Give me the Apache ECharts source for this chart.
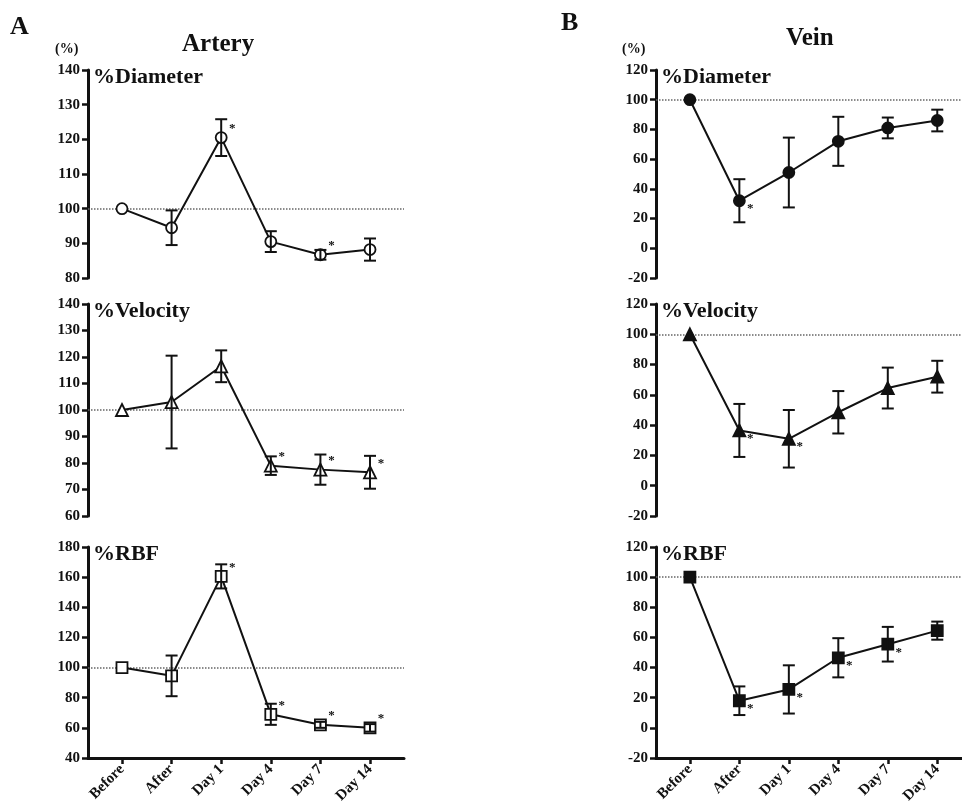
<!DOCTYPE html>
<html>
<head>
<meta charset="utf-8">
<script src="https://cdn.jsdelivr.net/npm/echarts@6/dist/echarts.min.js"></script>
<style>
  html, body { margin: 0; padding: 0; background: #fff; }
  #main { width: 962px; height: 812px; }
</style>
</head>
<body>
<div id="main"></div>
<script>
const categories = ["Before", "After", "Day 1", "Day 4", "Day 7", "Day 14"];

// A: Artery
const arteryDiameter = [100, 94.5, 120.5, 90.5, 86.7, 88.2];
const arteryDiameterErr = [0, 5, 5.3, 3, 1.4, 3.2];
const arteryDiameterStars = [2, 4];

const arteryVelocity = [100, 103, 116.5, 79, 77.5, 76.5];
const arteryVelocityErr = [0, 17.5, 6, 3.5, 5.7, 6.2];
const arteryVelocityStars = [3, 4, 5];

const arteryRBF = [100, 94.5, 160.5, 69, 62, 60];
const arteryRBFErr = [0, 13.5, 8, 7, 2, 2.5];
const arteryRBFStars = [2, 3, 4, 5];

// B: Vein
const veinDiameter = [100, 32, 51, 72, 81, 86];
const veinDiameterErr = [0, 14.5, 23.5, 16.5, 7, 7.3];
const veinDiameterStars = [1];

const veinVelocity = [100, 36.5, 31, 48.5, 64.5, 72];
const veinVelocityErr = [0, 17.5, 19, 14, 13.5, 10.5];
const veinVelocityStars = [1, 2];

const veinRBF = [100, 18, 25.5, 46.5, 55.5, 64.5];
const veinRBFErr = [0, 9.5, 16, 13, 11.5, 6];
const veinRBFStars = [1, 2, 3, 4];

const baseline = 100;

const serif = '"Liberation Serif", "Times New Roman", serif';

// panel layout: side 0 = artery, 1 = vein; row 0..2
const rowTops = [70, 304, 547];
const rowHeights = [208, 212, 211];

const panels = [
  { side: 0, row: 0, name: "%Diameter", vals: arteryDiameter, err: arteryDiameterErr, stars: arteryDiameterStars, min: 80, max: 140, step: 10, symbol: "circle", filled: false },
  { side: 0, row: 1, name: "%Velocity", vals: arteryVelocity, err: arteryVelocityErr, stars: arteryVelocityStars, min: 60, max: 140, step: 10, symbol: "triangle", filled: false },
  { side: 0, row: 2, name: "%RBF", vals: arteryRBF, err: arteryRBFErr, stars: arteryRBFStars, min: 40, max: 180, step: 20, symbol: "rect", filled: false },
  { side: 1, row: 0, name: "%Diameter", vals: veinDiameter, err: veinDiameterErr, stars: veinDiameterStars, min: -20, max: 120, step: 20, symbol: "circle", filled: true },
  { side: 1, row: 1, name: "%Velocity", vals: veinVelocity, err: veinVelocityErr, stars: veinVelocityStars, min: -20, max: 120, step: 20, symbol: "triangle", filled: true },
  { side: 1, row: 2, name: "%RBF", vals: veinRBF, err: veinRBFErr, stars: veinRBFStars, min: -20, max: 120, step: 20, symbol: "rect", filled: true }
];

const grids = [], xAxes = [], yAxes = [], series = [], graphics = [];

function errRender(params, api) {
  const x = api.value(0);
  const top = api.coord([x, api.value(2)]);
  const bot = api.coord([x, api.value(1)]);
  const w = 6;
  const style = { stroke: "#111", lineWidth: 2 };
  return {
    type: "group",
    children: [
      { type: "line", shape: { x1: top[0], y1: top[1], x2: bot[0], y2: bot[1] }, style: style },
      { type: "line", shape: { x1: top[0] - w, y1: top[1], x2: top[0] + w, y2: top[1] }, style: style },
      { type: "line", shape: { x1: bot[0] - w, y1: bot[1], x2: bot[0] + w, y2: bot[1] }, style: style }
    ]
  };
}

panels.forEach(function (p, i) {
  const left = p.side === 0 ? 88 : 656;
  const width = p.side === 0 ? 316 : 306;
  grids.push({ left: left, top: rowTops[p.row], width: width, height: rowHeights[p.row] });

  const bottomRow = p.row === 2;
  xAxes.push({
    type: "value",
    gridIndex: i,
    min: -0.685,
    max: p.side === 0 ? 5.685 : 5.5,
    show: bottomRow,
    splitLine: { show: false },
    axisLine: { show: true, onZero: false, lineStyle: { color: "#111", width: 3 } },
    axisTick: { show: true, length: 6, customValues: [0, 1, 2, 3, 4, 5], lineStyle: { color: "#111", width: 2.5 } },
    axisLabel: {
      show: true,
      customValues: [0, 1, 2, 3, 4, 5],
      formatter: function (v) { return categories[Math.round(v)]; },
      rotate: 45,
      margin: 9,
      fontFamily: serif,
      fontWeight: "bold",
      fontSize: 15,
      color: "#111"
    }
  });

  yAxes.push({
    type: "value",
    gridIndex: i,
    min: p.min,
    max: p.max,
    interval: p.step,
    splitLine: { show: false },
    axisLine: { show: true, onZero: false, lineStyle: { color: "#111", width: 3 } },
    axisTick: { show: true, length: 6, lineStyle: { color: "#111", width: 2.5 } },
    axisLabel: { margin: 8, fontFamily: serif, fontWeight: "bold", fontSize: 15, color: "#111" }
  });

  // dotted 100% reference line, kept under the data
  series.push({
    type: "line",
    xAxisIndex: i,
    yAxisIndex: i,
    data: [],
    z: 1,
    animation: false,
    markLine: {
      z: 1,
      silent: true,
      symbol: "none",
      label: { show: false },
      lineStyle: { type: "dotted", color: "#666", width: 1.5 },
      data: [{ yAxis: baseline }],
      animation: false
    }
  });

  series.push({
    type: "line",
    xAxisIndex: i,
    yAxisIndex: i,
    data: p.vals.map(function (v, k) { return [k, v]; }),
    symbol: p.symbol,
    symbolSize: p.symbol === "triangle" ? 12 : 11,
    showAllSymbol: true,
    lineStyle: { color: "#111", width: 2 },
    itemStyle: { color: p.filled ? "#111" : "#fff", borderColor: "#111", borderWidth: 1.8 },
    z: 3,
    animation: false
  });

  series.push({
    type: "custom",
    xAxisIndex: i,
    yAxisIndex: i,
    renderItem: errRender,
    data: p.vals.map(function (v, k) { return [k, v - p.err[k], v + p.err[k]]; }).filter(function (d, k) { return p.err[k] > 0; }),
    z: 4,
    animation: false
  });

  const dy = p.side === 0 ? -9 : 8;
  series.push({
    type: "custom",
    xAxisIndex: i,
    yAxisIndex: i,
    renderItem: function (params, api) {
      const c = api.coord([api.value(0), api.value(1)]);
      return {
        type: "text",
        style: { x: c[0] + 11, y: c[1] + dy, text: "*", fill: "#111", font: "bold 13px " + serif, align: "center", verticalAlign: "middle" }
      };
    },
    data: p.stars.map(function (k) { return [k, p.vals[k]]; }),
    z: 5,
    animation: false
  });

  graphics.push({
    type: "text",
    left: left + 5,
    top: rowTops[p.row] - 4,
    style: { text: p.name, font: "bold 22px " + serif, fill: "#111" }
  });
});

graphics.push(
  { type: "text", left: 10, top: 14, style: { text: "A", font: "bold 26px " + serif, fill: "#111" } },
  { type: "text", left: 561, top: 10, style: { text: "B", font: "bold 26px " + serif, fill: "#111" } },
  { type: "text", left: 182, top: 32, style: { text: "Artery", font: "bold 25px " + serif, fill: "#111" } },
  { type: "text", left: 786, top: 26, style: { text: "Vein", font: "bold 25px " + serif, fill: "#111" } },
  { type: "text", left: 55, top: 42, style: { text: "(%)", font: "bold 14px " + serif, fill: "#111" } },
  { type: "text", left: 622, top: 42, style: { text: "(%)", font: "bold 14px " + serif, fill: "#111" } }
);

const myChart = echarts.init(document.getElementById("main"));
myChart.setOption({
  backgroundColor: "#fff",
  animation: false,
  grid: grids,
  xAxis: xAxes,
  yAxis: yAxes,
  series: series,
  graphic: graphics
});
</script>
</body>
</html>
